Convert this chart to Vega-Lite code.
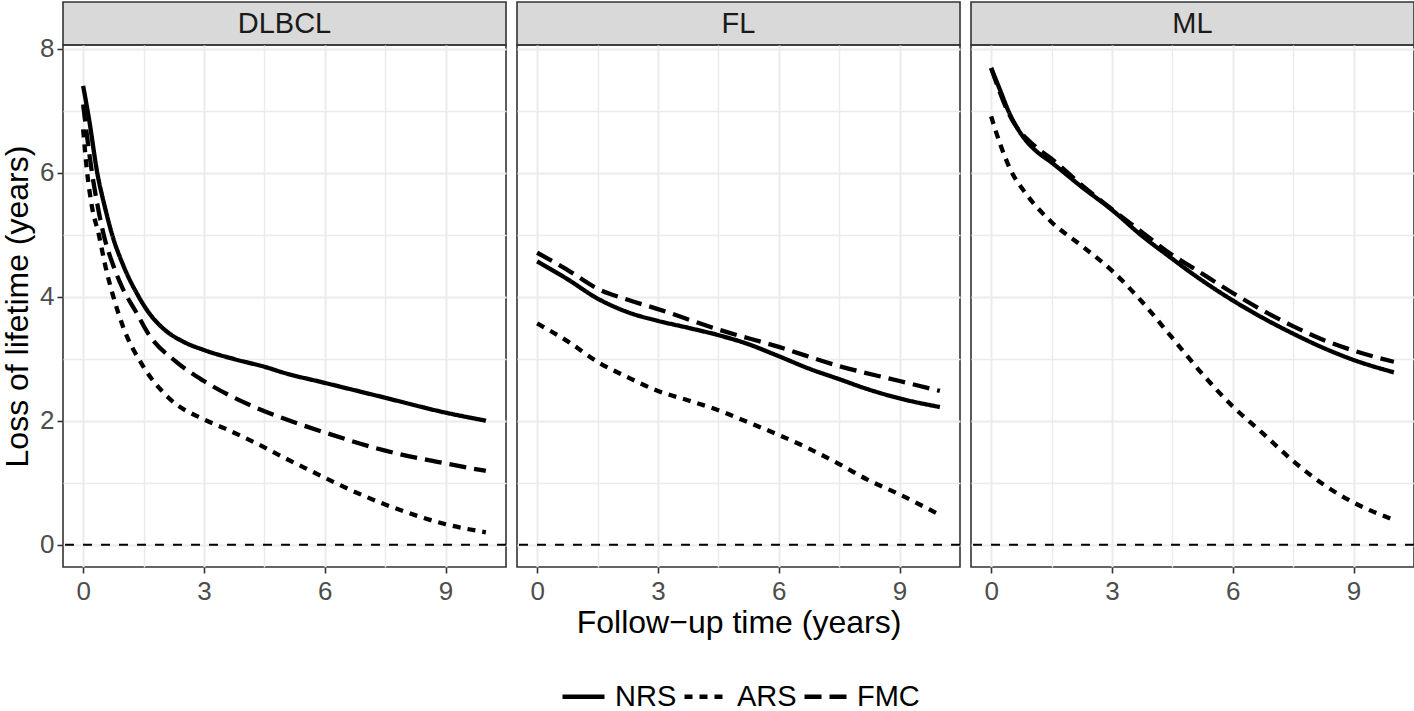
{
  "$schema": "https://vega.github.io/schema/vega-lite/v6.json",
  "background": "white",
  "padding": {"left": 0, "top": 1, "right": 0, "bottom": 0},
  "config": {
    "font": "Liberation Sans",
    "view": {"stroke": "#333333", "strokeWidth": 1.6},
    "axis": {
      "domain": false,
      "gridColor": "#EBEBEB",
      "tickColor": "#333333",
      "tickSize": 6,
      "tickWidth": 1.6,
      "labelColor": "#4D4D4D",
      "labelFontSize": 26,
      "labelFont": "Liberation Sans",
      "titleFont": "Liberation Sans",
      "titleFontSize": 32,
      "titleFontWeight": "normal",
      "titleColor": "#000000",
      "labelOverlap": false,
      "labelFlush": false
    },
    "legend": {
      "labelFont": "Liberation Sans",
      "labelFontSize": 29,
      "labelColor": "#000000"
    }
  },
  "datasets": {
    "curves": [
      {"g":"DLBCL","m":"NRS","t":0,"v":7.40},{"g":"DLBCL","m":"NRS","t":0.15,"v":6.85},{"g":"DLBCL","m":"NRS","t":0.35,"v":6.0},{"g":"DLBCL","m":"NRS","t":0.55,"v":5.42},{"g":"DLBCL","m":"NRS","t":0.72,"v":5.0},{"g":"DLBCL","m":"NRS","t":1.0,"v":4.5},{"g":"DLBCL","m":"NRS","t":1.38,"v":4.0},{"g":"DLBCL","m":"NRS","t":1.6,"v":3.77},{"g":"DLBCL","m":"NRS","t":2.0,"v":3.48},{"g":"DLBCL","m":"NRS","t":2.5,"v":3.27},{"g":"DLBCL","m":"NRS","t":3,"v":3.14},{"g":"DLBCL","m":"NRS","t":3.77,"v":2.99},{"g":"DLBCL","m":"NRS","t":4.5,"v":2.87},{"g":"DLBCL","m":"NRS","t":5,"v":2.77},{"g":"DLBCL","m":"NRS","t":6,"v":2.61},{"g":"DLBCL","m":"NRS","t":7.5,"v":2.37},{"g":"DLBCL","m":"NRS","t":9,"v":2.13},{"g":"DLBCL","m":"NRS","t":10,"v":2.0},
      {"g":"DLBCL","m":"ARS","t":0,"v":6.7},{"g":"DLBCL","m":"ARS","t":0.1,"v":6.0},{"g":"DLBCL","m":"ARS","t":0.22,"v":5.45},{"g":"DLBCL","m":"ARS","t":0.39,"v":5.0},{"g":"DLBCL","m":"ARS","t":0.55,"v":4.5},{"g":"DLBCL","m":"ARS","t":0.75,"v":4.0},{"g":"DLBCL","m":"ARS","t":1.0,"v":3.5},{"g":"DLBCL","m":"ARS","t":1.46,"v":2.91},{"g":"DLBCL","m":"ARS","t":2.12,"v":2.37},{"g":"DLBCL","m":"ARS","t":3,"v":2.02},{"g":"DLBCL","m":"ARS","t":3.5,"v":1.88},{"g":"DLBCL","m":"ARS","t":4,"v":1.73},{"g":"DLBCL","m":"ARS","t":4.5,"v":1.57},{"g":"DLBCL","m":"ARS","t":5,"v":1.40},{"g":"DLBCL","m":"ARS","t":5.5,"v":1.24},{"g":"DLBCL","m":"ARS","t":6,"v":1.08},{"g":"DLBCL","m":"ARS","t":7,"v":0.78},{"g":"DLBCL","m":"ARS","t":8,"v":0.53},{"g":"DLBCL","m":"ARS","t":9,"v":0.33},{"g":"DLBCL","m":"ARS","t":10,"v":0.2},
      {"g":"DLBCL","m":"FMC","t":0,"v":7.1},{"g":"DLBCL","m":"FMC","t":0.22,"v":6.0},{"g":"DLBCL","m":"FMC","t":0.35,"v":5.5},{"g":"DLBCL","m":"FMC","t":0.51,"v":5.0},{"g":"DLBCL","m":"FMC","t":0.75,"v":4.5},{"g":"DLBCL","m":"FMC","t":0.97,"v":4.15},{"g":"DLBCL","m":"FMC","t":1.3,"v":3.77},{"g":"DLBCL","m":"FMC","t":1.63,"v":3.39},{"g":"DLBCL","m":"FMC","t":2.29,"v":2.96},{"g":"DLBCL","m":"FMC","t":3,"v":2.64},{"g":"DLBCL","m":"FMC","t":4.18,"v":2.24},{"g":"DLBCL","m":"FMC","t":5.26,"v":1.97},{"g":"DLBCL","m":"FMC","t":6,"v":1.81},{"g":"DLBCL","m":"FMC","t":7.48,"v":1.52},{"g":"DLBCL","m":"FMC","t":9,"v":1.31},{"g":"DLBCL","m":"FMC","t":10,"v":1.19},
      {"g":"FL","m":"NRS","t":0,"v":4.57},{"g":"FL","m":"NRS","t":0.76,"v":4.28},{"g":"FL","m":"NRS","t":1.5,"v":3.97},{"g":"FL","m":"NRS","t":2.25,"v":3.75},{"g":"FL","m":"NRS","t":3,"v":3.61},{"g":"FL","m":"NRS","t":3.74,"v":3.5},{"g":"FL","m":"NRS","t":4.5,"v":3.38},{"g":"FL","m":"NRS","t":5.22,"v":3.24},{"g":"FL","m":"NRS","t":6,"v":3.04},{"g":"FL","m":"NRS","t":6.75,"v":2.84},{"g":"FL","m":"NRS","t":7.5,"v":2.67},{"g":"FL","m":"NRS","t":8.2,"v":2.51},{"g":"FL","m":"NRS","t":9,"v":2.36},{"g":"FL","m":"NRS","t":10,"v":2.22},
      {"g":"FL","m":"ARS","t":0,"v":3.57},{"g":"FL","m":"ARS","t":0.76,"v":3.28},{"g":"FL","m":"ARS","t":1.5,"v":2.95},{"g":"FL","m":"ARS","t":2.25,"v":2.7},{"g":"FL","m":"ARS","t":3,"v":2.48},{"g":"FL","m":"ARS","t":3.74,"v":2.33},{"g":"FL","m":"ARS","t":4.5,"v":2.17},{"g":"FL","m":"ARS","t":5.22,"v":1.98},{"g":"FL","m":"ARS","t":6,"v":1.77},{"g":"FL","m":"ARS","t":6.75,"v":1.55},{"g":"FL","m":"ARS","t":7.5,"v":1.3},{"g":"FL","m":"ARS","t":8.2,"v":1.05},{"g":"FL","m":"ARS","t":9,"v":0.81},{"g":"FL","m":"ARS","t":10,"v":0.48},
      {"g":"FL","m":"FMC","t":0,"v":4.71},{"g":"FL","m":"FMC","t":0.76,"v":4.43},{"g":"FL","m":"FMC","t":1.5,"v":4.13},{"g":"FL","m":"FMC","t":2.25,"v":3.95},{"g":"FL","m":"FMC","t":3,"v":3.8},{"g":"FL","m":"FMC","t":4.5,"v":3.47},{"g":"FL","m":"FMC","t":6,"v":3.19},{"g":"FL","m":"FMC","t":7.5,"v":2.88},{"g":"FL","m":"FMC","t":9,"v":2.64},{"g":"FL","m":"FMC","t":10,"v":2.48},
      {"g":"ML","m":"NRS","t":0,"v":7.69},{"g":"ML","m":"NRS","t":0.23,"v":7.32},{"g":"ML","m":"NRS","t":0.44,"v":6.98},{"g":"ML","m":"NRS","t":0.77,"v":6.6},{"g":"ML","m":"NRS","t":1.1,"v":6.36},{"g":"ML","m":"NRS","t":1.49,"v":6.17},{"g":"ML","m":"NRS","t":2.25,"v":5.77},{"g":"ML","m":"NRS","t":3,"v":5.4},{"g":"ML","m":"NRS","t":3.73,"v":4.99},{"g":"ML","m":"NRS","t":4.48,"v":4.62},{"g":"ML","m":"NRS","t":5,"v":4.37},{"g":"ML","m":"NRS","t":6,"v":3.94},{"g":"ML","m":"NRS","t":6.74,"v":3.66},{"g":"ML","m":"NRS","t":7.48,"v":3.41},{"g":"ML","m":"NRS","t":8.3,"v":3.16},{"g":"ML","m":"NRS","t":9,"v":2.98},{"g":"ML","m":"NRS","t":10,"v":2.78},
      {"g":"ML","m":"ARS","t":0,"v":6.91},{"g":"ML","m":"ARS","t":0.23,"v":6.45},{"g":"ML","m":"ARS","t":0.48,"v":6.05},{"g":"ML","m":"ARS","t":0.89,"v":5.64},{"g":"ML","m":"ARS","t":1.49,"v":5.21},{"g":"ML","m":"ARS","t":2.25,"v":4.82},{"g":"ML","m":"ARS","t":3,"v":4.42},{"g":"ML","m":"ARS","t":3.73,"v":3.93},{"g":"ML","m":"ARS","t":4.48,"v":3.35},{"g":"ML","m":"ARS","t":5.25,"v":2.75},{"g":"ML","m":"ARS","t":6,"v":2.23},{"g":"ML","m":"ARS","t":6.74,"v":1.8},{"g":"ML","m":"ARS","t":7.48,"v":1.36},{"g":"ML","m":"ARS","t":8.3,"v":0.95},{"g":"ML","m":"ARS","t":9,"v":0.68},{"g":"ML","m":"ARS","t":10,"v":0.4},
      {"g":"ML","m":"FMC","t":0,"v":7.69},{"g":"ML","m":"FMC","t":0.44,"v":6.95},{"g":"ML","m":"FMC","t":1.1,"v":6.42},{"g":"ML","m":"FMC","t":1.49,"v":6.23},{"g":"ML","m":"FMC","t":2.25,"v":5.8},{"g":"ML","m":"FMC","t":3,"v":5.41},{"g":"ML","m":"FMC","t":3.73,"v":5.05},{"g":"ML","m":"FMC","t":4.48,"v":4.68},{"g":"ML","m":"FMC","t":5,"v":4.47},{"g":"ML","m":"FMC","t":6,"v":4.06},{"g":"ML","m":"FMC","t":6.74,"v":3.78},{"g":"ML","m":"FMC","t":7.48,"v":3.53},{"g":"ML","m":"FMC","t":8.3,"v":3.29},{"g":"ML","m":"FMC","t":9,"v":3.13},{"g":"ML","m":"FMC","t":10,"v":2.95}
    ],
    "zero": [{"y": 0}]
  },
  "resolve": {"scale": {"x": "independent", "y": "independent"}},
  "spacing": 7,
  "hconcat": [
    {
      "spacing": 0,
      "bounds": "flush",
      "resolve": {"scale": {"x": "independent", "y": "independent"}},
      "vconcat": [
        {
          "width": 443, "height": 43,
          "view": {"fill": "#D9D9D9", "stroke": "#333333", "strokeWidth": 1.6},
          "data": {"values": [{"g": "DLBCL"}]},
          "mark": {"type": "text", "fontSize": 29, "color": "#1A1A1A", "baseline": "middle", "align": "center", "font": "Liberation Sans"},
          "encoding": {
            "text": {"field": "g"},
            "x": {"datum": 0.5, "type": "quantitative", "scale": {"domain": [0, 1]}, "axis": null},
            "y": {"datum": 0.5, "type": "quantitative", "scale": {"domain": [0, 1]}, "axis": null}
          }
        },
        {
          "width": 443, "height": 522,
          "layer": [
            {
              "data": {"name": "curves"},
              "transform": [{"filter": "datum.g === 'DLBCL'"}],
              "mark": {"type": "line", "color": "#000000", "strokeWidth": 4.3, "interpolate": "monotone", "strokeCap": "butt"},
              "encoding": {
                "x": {"field": "t", "type": "quantitative", "scale": {"domain": [-0.5, 10.5], "nice": false, "zero": false},
                  "axis": {"title": null, "format": "d", "values": [0, 1.5, 3, 4.5, 6, 7.5, 9], "labelExpr": "datum.value % 3 === 0 ? datum.label : ''",
                    "tickOpacity": {"condition": {"test": "datum.value % 3 === 0", "value": 1}, "value": 0},
                    "gridWidth": {"condition": {"test": "datum.value % 3 === 0", "value": 2}, "value": 1.4}, "labelPadding": 5}},
                "y": {"field": "v", "type": "quantitative", "scale": {"domain": [-0.36, 8.06], "nice": false, "zero": false},
                  "axis": {"title": "Loss of lifetime (years)", "format": "d", "values": [0, 1, 2, 3, 4, 5, 6, 7, 8], "labelExpr": "datum.value % 2 === 0 ? datum.label : ''",
                    "tickOpacity": {"condition": {"test": "datum.value % 2 === 0", "value": 1}, "value": 0},
                    "gridWidth": {"condition": {"test": "datum.value % 2 === 0", "value": 2}, "value": 1.4}, "labelPadding": 3, "titlePadding": 5}},
                "detail": {"field": "m"},
                "strokeDash": {"field": "m", "type": "nominal", "scale": {"domain": ["NRS", "ARS", "FMC"], "range": [[1, 0], [8, 7], [17, 8]]},
                  "legend": {"title": null, "orient": "none", "direction": "horizontal", "legendX": 497, "legendY": 671, "symbolType": "stroke", "symbolSize": 1764, "symbolStrokeWidth": 4.3, "symbolStrokeColor": "#000000", "labelOffset": 8, "columnPadding": -2, "padding": 0}}
              }
            },
            {
              "data": {"name": "zero"},
              "mark": {"type": "rule", "color": "#000000", "strokeWidth": 2, "strokeDash": [9, 9]},
              "encoding": {"y": {"field": "y", "type": "quantitative"}}
            }
          ]
        }
      ]
    },
    {
      "spacing": 0,
      "bounds": "flush",
      "resolve": {"scale": {"x": "independent", "y": "independent"}},
      "vconcat": [
        {
          "width": 443, "height": 43,
          "view": {"fill": "#D9D9D9", "stroke": "#333333", "strokeWidth": 1.6},
          "data": {"values": [{"g": "FL"}]},
          "mark": {"type": "text", "fontSize": 29, "color": "#1A1A1A", "baseline": "middle", "align": "center", "font": "Liberation Sans"},
          "encoding": {
            "text": {"field": "g"},
            "x": {"datum": 0.5, "type": "quantitative", "scale": {"domain": [0, 1]}, "axis": null},
            "y": {"datum": 0.5, "type": "quantitative", "scale": {"domain": [0, 1]}, "axis": null}
          }
        },
        {
          "width": 443, "height": 522,
          "layer": [
            {
              "data": {"name": "curves"},
              "transform": [{"filter": "datum.g === 'FL'"}],
              "mark": {"type": "line", "color": "#000000", "strokeWidth": 4.3, "interpolate": "monotone", "strokeCap": "butt"},
              "encoding": {
                "x": {"field": "t", "type": "quantitative", "scale": {"domain": [-0.5, 10.5], "nice": false, "zero": false},
                  "axis": {"title": "Follow\u2212up time (years)", "format": "d", "values": [0, 1.5, 3, 4.5, 6, 7.5, 9], "labelExpr": "datum.value % 3 === 0 ? datum.label : ''",
                    "tickOpacity": {"condition": {"test": "datum.value % 3 === 0", "value": 1}, "value": 0},
                    "gridWidth": {"condition": {"test": "datum.value % 3 === 0", "value": 2}, "value": 1.4}, "labelPadding": 5, "titlePadding": 3}},
                "y": {"field": "v", "type": "quantitative", "scale": {"domain": [-0.36, 8.06], "nice": false, "zero": false},
                  "axis": {"title": null, "labels": false, "ticks": false, "tickSize": 0, "values": [0, 1, 2, 3, 4, 5, 6, 7, 8],
                    "gridWidth": {"condition": {"test": "datum.value % 2 === 0", "value": 2}, "value": 1.4}}},
                "detail": {"field": "m"},
                "strokeDash": {"field": "m", "type": "nominal", "scale": {"domain": ["NRS", "ARS", "FMC"], "range": [[1, 0], [8, 7], [17, 8]]}}
              }
            },
            {
              "data": {"name": "zero"},
              "mark": {"type": "rule", "color": "#000000", "strokeWidth": 2, "strokeDash": [9, 9]},
              "encoding": {"y": {"field": "y", "type": "quantitative"}}
            }
          ]
        }
      ]
    },
    {
      "spacing": 0,
      "bounds": "flush",
      "resolve": {"scale": {"x": "independent", "y": "independent"}},
      "vconcat": [
        {
          "width": 443, "height": 43,
          "view": {"fill": "#D9D9D9", "stroke": "#333333", "strokeWidth": 1.6},
          "data": {"values": [{"g": "ML"}]},
          "mark": {"type": "text", "fontSize": 29, "color": "#1A1A1A", "baseline": "middle", "align": "center", "font": "Liberation Sans"},
          "encoding": {
            "text": {"field": "g"},
            "x": {"datum": 0.5, "type": "quantitative", "scale": {"domain": [0, 1]}, "axis": null},
            "y": {"datum": 0.5, "type": "quantitative", "scale": {"domain": [0, 1]}, "axis": null}
          }
        },
        {
          "width": 443, "height": 522,
          "layer": [
            {
              "data": {"name": "curves"},
              "transform": [{"filter": "datum.g === 'ML'"}],
              "mark": {"type": "line", "color": "#000000", "strokeWidth": 4.3, "interpolate": "monotone", "strokeCap": "butt"},
              "encoding": {
                "x": {"field": "t", "type": "quantitative", "scale": {"domain": [-0.5, 10.5], "nice": false, "zero": false},
                  "axis": {"title": null, "format": "d", "values": [0, 1.5, 3, 4.5, 6, 7.5, 9], "labelExpr": "datum.value % 3 === 0 ? datum.label : ''",
                    "tickOpacity": {"condition": {"test": "datum.value % 3 === 0", "value": 1}, "value": 0},
                    "gridWidth": {"condition": {"test": "datum.value % 3 === 0", "value": 2}, "value": 1.4}, "labelPadding": 5}},
                "y": {"field": "v", "type": "quantitative", "scale": {"domain": [-0.36, 8.06], "nice": false, "zero": false},
                  "axis": {"title": null, "labels": false, "ticks": false, "tickSize": 0, "values": [0, 1, 2, 3, 4, 5, 6, 7, 8],
                    "gridWidth": {"condition": {"test": "datum.value % 2 === 0", "value": 2}, "value": 1.4}}},
                "detail": {"field": "m"},
                "strokeDash": {"field": "m", "type": "nominal", "scale": {"domain": ["NRS", "ARS", "FMC"], "range": [[1, 0], [8, 7], [17, 8]]}}
              }
            },
            {
              "data": {"name": "zero"},
              "mark": {"type": "rule", "color": "#000000", "strokeWidth": 2, "strokeDash": [9, 9]},
              "encoding": {"y": {"field": "y", "type": "quantitative"}}
            }
          ]
        }
      ]
    }
  ]
}
